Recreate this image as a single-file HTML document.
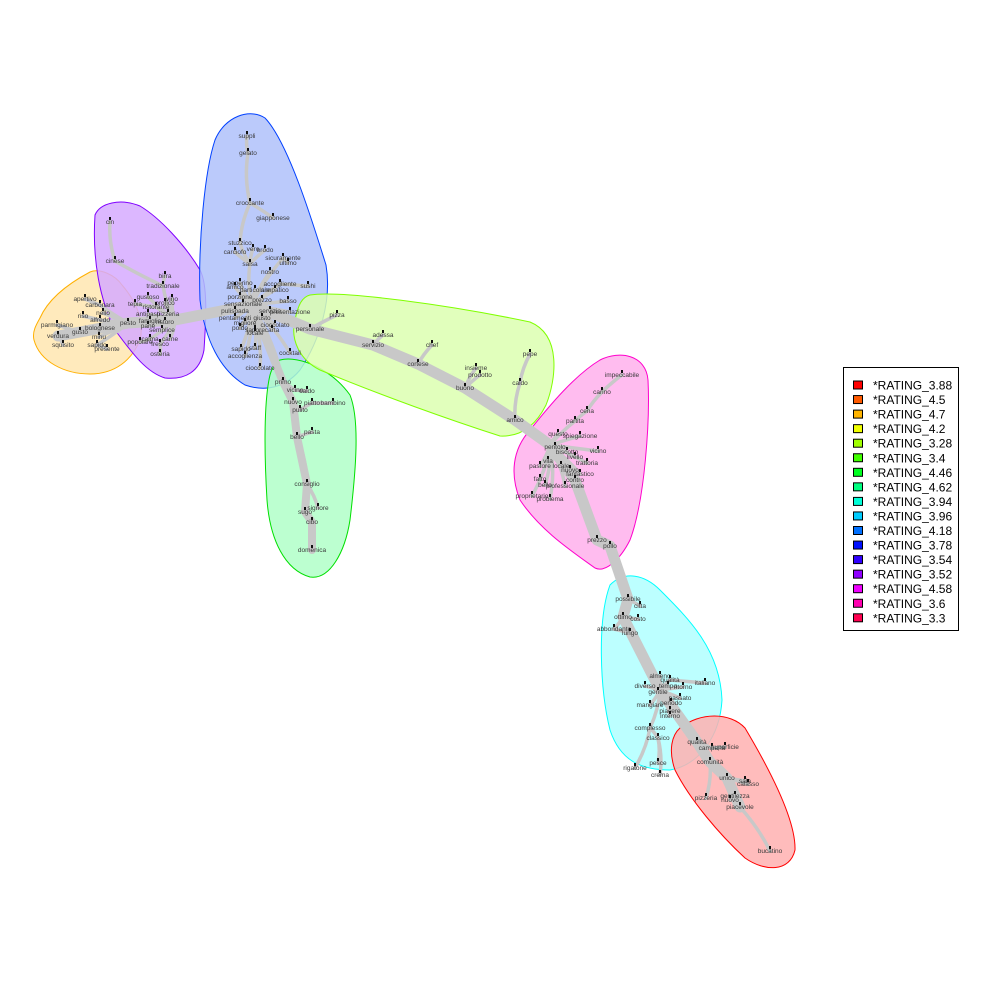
<!DOCTYPE html>
<html><head><meta charset="utf-8"><style>
html,body{margin:0;padding:0;background:#fff;}
svg{display:block;font-family:"Liberation Sans",sans-serif;}
.lbl{font-size:6.5px;fill:#3a3a3a;text-anchor:middle;}
</style></head><body>
<svg id="chart" width="1000" height="1000" viewBox="0 0 1000 1000">
<g id="blobs"></g>
<g id="edges"></g>
<g id="nodes"></g>
<g id="legend"></g>
</svg>
<script>
const legendLabels=["*RATING_3.88","*RATING_4.5","*RATING_4.7","*RATING_4.2","*RATING_3.28","*RATING_3.4","*RATING_4.46","*RATING_4.62","*RATING_3.94","*RATING_3.96","*RATING_4.18","*RATING_3.78","*RATING_3.54","*RATING_3.52","*RATING_4.58","*RATING_3.6","*RATING_3.3"];
const legendColors=["#ff0000","#ff5a00","#ffb400","#f0ff00","#a0ff00","#40ff00","#00ff20","#00ff80","#00ffd8","#00ccff","#0070ff","#0010ff","#3000ff","#9000ff","#f000ff","#ff00b0","#ff0050"];
const hullNames=["rating-4.7","rating-3.52","rating-3.78","rating-4.46","rating-3.28","rating-3.6","rating-3.94","rating-3.88"];
const hullStroke=["#ffb000","#8000ff","#0040ff","#00e000","#80ff00","#ff00cc","#00ffff","#ff0000"];
const hullFill=["#ffe6b0","#d6aaff","#afc1fa","#b0ffc8","#dcffb0","#ffb0ec","#b0ffff","#ffb0b0"];
const hullPaths=[
"M40,318 C50,295 75,280 90,272 C100,268 115,275 122,285 C135,300 145,320 140,340 C132,360 115,374 90,374 C65,374 40,362 34,340 C32,332 36,325 40,318Z",
"M95,215 C100,203 120,198 140,206 C160,218 185,245 200,270 C208,285 206,320 204,350 C200,372 185,380 165,378 C145,372 130,350 115,330 C100,300 92,260 95,215Z",
"M215,140 C225,116 250,108 265,118 C288,142 312,220 326,265 C332,300 320,340 300,370 C285,388 265,392 245,385 C220,370 205,340 200,300 C198,240 205,170 215,140Z",
"M280,360 C300,355 332,370 350,395 C360,420 356,470 350,520 C345,552 330,580 310,577 C285,570 270,540 267,500 C264,450 264,400 270,375 C272,368 275,362 280,360Z",
"M310,295 C340,290 450,305 530,322 C562,335 556,380 546,405 C535,427 520,437 500,436 C450,420 380,395 320,370 C300,360 290,340 295,320 C298,305 302,297 310,295Z",
"M600,360 C620,350 646,355 648,380 C650,420 645,500 630,540 C620,560 605,573 595,568 C570,550 540,530 520,500 C510,475 512,450 530,430 C550,405 575,375 600,360Z",
"M610,585 C625,570 645,575 660,590 C690,620 720,650 722,700 C720,735 700,765 670,770 C640,770 620,760 610,730 C600,690 597,620 610,585Z",
"M680,728 C700,712 730,712 745,728 C770,770 796,820 795,850 C790,872 765,872 745,858 C720,835 690,800 675,770 C668,750 672,735 680,728Z"];
const nodeNames=["pesto","apertivo","carbonara","riso","nello","alfredo","parmigiano","bolognese","gusto","verdura","minu","squisito","sapido","presente",
"hubP","cin","cinese","birra","tradizionale","gustoso","vino","profico","tepia","ristorante","antipasti","pizzeria","famiglia","ristoro","pane","semplice","calma","carne","popolare","fresco","osteria",
"hubB","suppli","gelato","croccante","giapponese","stuzzico","carciofo","vero","brodo","salsa","sicuramente","ultimo","nostro","accogliente","peperino","sushi","simpatico","amico","particolare","porzione","prezzo","basso","sensazionale","pulispada","servizio","presentazione","pentamenti","migliore","giusto","cioccolato","poldo","sapore","carta","locale","staff","sapido","cocktail","accoglienza","cioccolato",
"primo","vicino","caldo","nuovo","pulito","piatto","bambino","pasta","bello","consiglio","signore","sugo","cibo","domenica",
"personale","pizza","adessa","servizio","chef","cortese","insieme","prodotto","buono","pepe","caldo","amico",
"hubK","impeccabile","carino","cena","partita","questo","spiegazione","pentolo","biscotto","vicino","livello","trattoria","vila","pastore","locale","nuovo","fantastico","contro","fatto","bello","professionale","proprietario","problema","prezzo","pollo",
"possibile","citta","ottimo","costo","abbondante","lungo","hubC","almeno","qualità","italiano","diverso","tempo","ritorno","gentile","passato","mangiare","periodo","piacere","interno","complesso","classico","pesce","rigatone","crema",
"qualità","campana","superficie","comunità","unico","sala","calasso","pizzeria","gentilezza","nuovo","piacevole","bucatino"];
const nodeX=[128,85,100,83,103,100,57,100,80,58,99,63,97,107,
175,110,115,165,163,148,172,165,135,156,148,168,150,165,148,162,150,170,140,160,160,
252,247,248,250,273,240,235,253,265,250,283,288,270,280,240,308,275,235,255,240,262,288,243,235,270,290,235,245,262,275,240,255,272,255,255,241,290,245,260,
283,295,307,293,300,312,333,312,297,307,318,305,312,312,
310,337,383,373,432,418,476,480,465,530,520,515,
550,622,602,587,575,558,580,555,567,598,575,587,548,540,561,570,580,575,540,545,565,532,550,597,610,
628,640,623,638,614,630,660,660,670,705,645,668,683,658,680,650,671,670,670,650,658,658,635,660,
697,712,725,710,727,745,748,706,735,730,740,770];
const nodeY=[323,299,305,316,313,320,325,328,332,336,337,345,345,349,
320,222,261,276,286,297,299,303,304,307,314,314,321,322,326,330,339,339,342,344,354,
305,136,153,203,218,243,252,249,250,264,258,263,272,284,283,286,290,287,290,297,300,301,304,311,311,312,318,323,318,325,328,330,330,333,348,349,353,356,368,
382,390,391,402,410,403,403,432,437,484,508,512,522,550,
329,315,335,345,345,364,368,375,388,354,383,420,
445,375,392,411,421,434,436,447,452,451,457,463,461,466,466,470,474,480,479,485,486,496,499,540,546,
599,606,617,619,629,633,690,676,680,683,686,686,687,692,698,705,703,711,716,728,738,763,768,775,
742,748,747,762,778,781,784,798,796,800,807,851];
const nodeParent=[14,2,0,5,0,0,8,0,0,8,0,9,0,12,
35,16,18,18,14,14,14,14,23,14,14,14,14,14,14,14,14,14,30,14,33,
88,37,38,40,38,44,44,44,44,35,35,45,35,35,35,48,35,35,35,35,35,35,35,35,35,35,35,35,35,35,35,35,35,35,35,35,35,35,35,
35,74,75,74,77,78,79,82,77,82,83,83,85,86,
35,88,91,88,93,91,96,96,93,98,99,96,
99,102,103,104,100,100,100,100,100,100,100,100,100,100,100,100,100,100,100,100,100,100,100,100,123,
124,125,125,127,127,129,127,131,131,133,131,131,131,131,131,131,131,131,131,131,144,145,144,145,
131,149,150,149,152,153,153,152,153,153,153,159];
const spineIdx=[9,8,0,14,35,88,91,93,96,99,100,117,123,124,125,127,131,149,152,153,159];
const greenIdx=[35,74,77,82,83,85,86,87];
const NS="http://www.w3.org/2000/svg";
function mk(tag,attrs,parent){const e=document.createElementNS(NS,tag);for(const k in attrs)e.setAttribute(k,attrs[k]);parent.appendChild(e);return e;}
const gB=document.getElementById('blobs'),gE=document.getElementById('edges'),gN=document.getElementById('nodes'),gL=document.getElementById('legend');
hullPaths.forEach((d,i)=>{const p=mk('path',{d:d,fill:hullFill[i],'fill-opacity':0.85,stroke:hullStroke[i],'stroke-width':1},gB);

});
function polyline(idx,w,name){let pts=idx.map(i=>nodeX[i]+','+nodeY[i]).join(' ');const l=mk('polyline',{points:pts,fill:'none',stroke:'#c8c8c8','stroke-width':w,'stroke-linecap':'round','stroke-linejoin':'round'},gE);

}
for(let i=0;i<nodeNames.length;i++){const h=nodeParent[i];if(h===i)continue;
const mx=(nodeX[i]+nodeX[h])/2+(nodeY[i]-nodeY[h])*0.1,my=(nodeY[i]+nodeY[h])/2;
const e=mk('path',{d:`M${nodeX[h]},${nodeY[h]} Q${mx},${my} ${nodeX[i]},${nodeY[i]}`,fill:'none',stroke:'#c8c8c8','stroke-width':3.5,'stroke-linecap':'round'},gE);

}
polyline(spineIdx,11,'main-spine');
polyline(greenIdx,8,'green-branch');
for(let i=0;i<nodeNames.length;i++){if(nodeNames[i].startsWith('hub'))continue;
const m=mk('rect',{x:nodeX[i]-1,y:nodeY[i]-5,width:2,height:3,fill:'#111'},gN);


const t=mk('text',{x:nodeX[i],y:nodeY[i]+2,class:'lbl'},gN);t.textContent=nodeNames[i];

}
const box=mk('rect',{x:843.5,y:367.5,width:115,height:263,fill:'#fff',stroke:'#000','stroke-width':1},gL);


legendLabels.forEach((s,i)=>{const y=385+i*14.55;
const r=mk('rect',{x:853.5,y:y-4,width:9,height:8,fill:legendColors[i],stroke:'#000','stroke-width':1},gL);


const t=mk('text',{x:873,y:y+4.5,'font-size':12,fill:'#000'},gL);t.textContent=s;

});
</script>
</body></html>
